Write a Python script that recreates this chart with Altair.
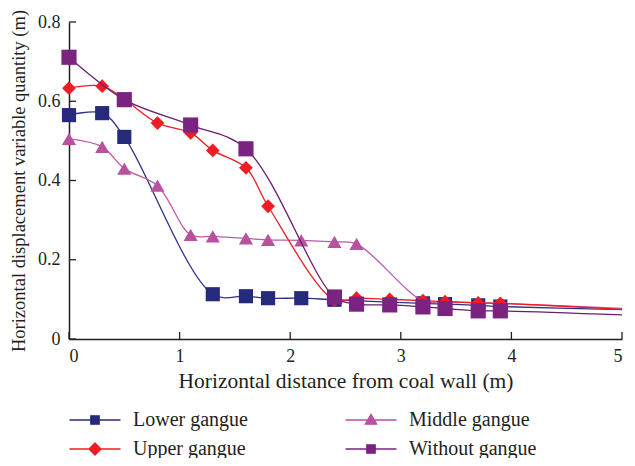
import altair as alt
import pandas as pd

# ---------------- data ----------------
series_names = ["Lower gangue", "Upper gangue", "Middle gangue", "Without gangue"]
legend_order = ["Lower gangue", "Upper gangue", "Middle gangue", "Without gangue"]
draw_order = ["Lower gangue", "Middle gangue", "Upper gangue", "Without gangue"]

lower_x = [0, 0.3, 0.5, 1.3, 1.6, 1.8, 2.1, 2.4, 3.2, 3.4, 3.7, 3.9]
lower_y = [0.565, 0.570, 0.510, 0.113, 0.108, 0.103, 0.103, 0.099, 0.090, 0.088, 0.085, 0.082]

upper_x = [0, 0.3, 0.5, 0.8, 1.1, 1.3, 1.6, 1.8, 2.4, 2.6, 2.9, 3.2, 3.4, 3.7, 3.9]
upper_y = [0.633, 0.638, 0.605, 0.545, 0.520, 0.476, 0.432, 0.335, 0.098, 0.103, 0.100, 0.097, 0.094, 0.091, 0.090]

middle_x = [0, 0.3, 0.5, 0.8, 1.1, 1.3, 1.6, 1.8, 2.1, 2.4, 2.6, 3.2, 3.4, 3.7, 3.9]
middle_y = [0.505, 0.485, 0.430, 0.387, 0.263, 0.259, 0.254, 0.250, 0.249, 0.245, 0.240, 0.096, 0.094, 0.092, 0.090]

without_x = [0, 0.5, 1.1, 1.6, 2.4, 2.6, 2.9, 3.2, 3.4, 3.7, 3.9]
without_y = [0.711, 0.604, 0.540, 0.480, 0.106, 0.088, 0.086, 0.081, 0.077, 0.071, 0.071]

# line tails (no marker) at x = 5
tail_x = 5
tail_y = {"Lower gangue": 0.074, "Upper gangue": 0.075, "Middle gangue": 0.077, "Without gangue": 0.061}

x_ticks = [0, 1, 2, 3, 4, 5]
y_ticks = [0, 0.2, 0.4, 0.6, 0.8]

# ---------------- styles ----------------
colors = {"Lower gangue": "#262A7C", "Upper gangue": "#EE1D25",
          "Middle gangue": "#B8519E", "Without gangue": "#7B2381"}
line_colors = {"Lower gangue": "#2E3186", "Upper gangue": "#EE1D25",
               "Middle gangue": "#BE5AA6", "Without gangue": "#6A1F6E"}
shapes = {"Lower gangue": "square", "Upper gangue": "diamond",
          "Middle gangue": "triangle-up", "Without gangue": "square"}
sizes = {"Lower gangue": 200, "Upper gangue": 190, "Middle gangue": 200, "Without gangue": 230}
legend_paths = {
    "Lower gangue": "M-1.7,0H1.7M-0.28,-0.28H0.28V0.28H-0.28Z",
    "Upper gangue": "M-1.7,0H1.7M0,-0.4L0.4,0L0,0.4L-0.4,0Z",
    "Middle gangue": "M-1.7,0H1.7M0,-0.38L0.38,0.28H-0.38Z",
    "Without gangue": "M-1.7,0H1.7M-0.28,-0.28H0.28V0.28H-0.28Z",
}

FONT = "Liberation Serif"
TXT = "#231F20"

rows = []
for name, xs, ys in [("Lower gangue", lower_x, lower_y), ("Upper gangue", upper_x, upper_y),
                     ("Middle gangue", middle_x, middle_y), ("Without gangue", without_x, without_y)]:
    for a, b in zip(xs, ys):
        rows.append({"series": name, "x": a, "y": b, "marker": True})
    rows.append({"series": name, "x": tail_x, "y": tail_y[name], "marker": False})
df = pd.DataFrame(rows)

W, H = 553, 317

x_scale = alt.Scale(domain=[0, 5], nice=False, zero=False)
y_scale = alt.Scale(domain=[0, 0.8], nice=False)
x_axis = alt.Axis(values=x_ticks, format="d", title="Horizontal distance from coal wall (m)",
                  ticks=False, grid=False, labelPadding=8, titlePadding=5,
                  titleFontSize=21.5)
y_axis = alt.Axis(values=y_ticks, format=".1~f",
                  title="Horizontal displacement variable quantity (m)",
                  ticks=False, grid=False, labelPadding=9, titlePadding=9,
                  titleFontSize=18.5)
x_enc = alt.X("x:Q", scale=x_scale, axis=x_axis)
y_enc = alt.Y("y:Q", scale=y_scale, axis=y_axis)

layers = []
for name in draw_order:
    sub = alt.Chart(df).transform_filter(alt.datum.series == name)
    layers.append(sub.mark_line(color=line_colors[name], strokeWidth=1.3,
                                interpolate="catmull-rom").encode(x=x_enc, y=y_enc))
    layers.append(sub.transform_filter(alt.datum.marker == True).mark_point(
        filled=True, opacity=1, color=colors[name], shape=shapes[name],
        size=sizes[name]).encode(x=x_enc, y=y_enc))

# inward ticks
tick_df = pd.DataFrame({"y": y_ticks})
xt_df = pd.DataFrame({"x": x_ticks})
layers.append(alt.Chart(tick_df).mark_rule(color=TXT, strokeWidth=1.3).encode(
    y=y_enc, x=alt.value(0), x2=alt.value(7)))
layers.append(alt.Chart(xt_df).mark_rule(color=TXT, strokeWidth=1.3).encode(
    x=x_enc, y=alt.value(H - 7), y2=alt.value(H)))

# legend layer (no data drawn)
leg = alt.Legend(title=None, orient="none", legendX=10, legendY=382, columns=2,
                 columnPadding=94, rowPadding=3, symbolSize=900, symbolStrokeWidth=1.3,
                 labelOffset=22, labelFont=FONT, labelFontSize=20, labelColor=TXT,
                 labelLimit=0, symbolOpacity=1)
col_scale = alt.Scale(domain=legend_order, range=[colors[n] for n in legend_order])
layers.append(alt.Chart(df).transform_filter("false").mark_point(
    filled=True, opacity=1, size=900).encode(
    fill=alt.Fill("series:N", scale=col_scale, legend=leg),
    stroke=alt.Stroke("series:N", scale=col_scale, legend=leg),
    shape=alt.Shape("series:N", scale=alt.Scale(domain=legend_order,
                                                 range=[legend_paths[n] for n in legend_order]),
                    legend=leg),
))

chart = alt.layer(*layers).properties(
    width=W, height=H,
    autosize=alt.AutoSizeParams(type="none"),
    padding={"left": 61, "top": 14, "right": 5, "bottom": 119},
).configure_view(stroke=None).configure_axis(
    domainColor=TXT, domainWidth=1.5,
    labelFont=FONT, labelFontSize=18, labelColor=TXT,
    titleFont=FONT, titleFontWeight="normal", titleColor=TXT,
)

chart.save("out.html", embed_options={"renderer": "svg", "actions": False})
